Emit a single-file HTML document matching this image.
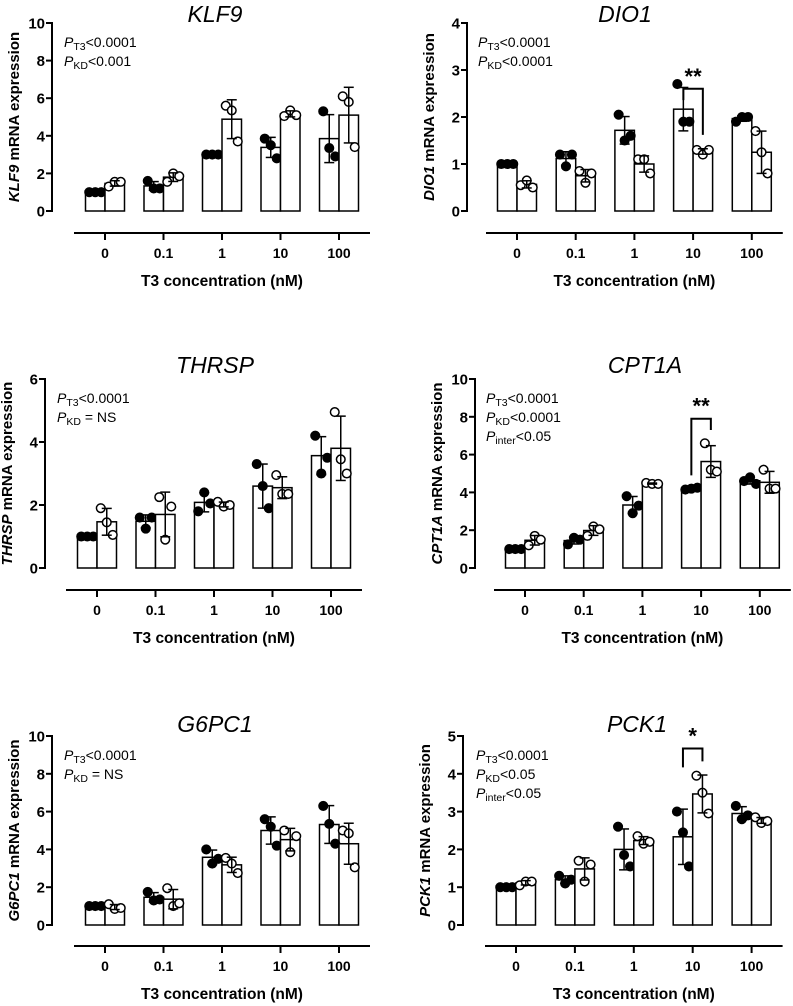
<!DOCTYPE html>
<html><head><meta charset="utf-8"><style>
html,body{margin:0;padding:0;background:#fff}
svg{display:block;font-family:"Liberation Sans",Arial,sans-serif}
</style></head><body>
<svg id="fig" width="793" height="1006" viewBox="0 0 793 1006"></svg>
<script>
const categories=["0","0.1","1","10","100"];
const klf9Ctrl=[[1,1,1],[1.6,1.2,1.2],[3,3,3],[3.85,3.5,2.8],[5.3,3.35,2.9]];
const klf9KD=[[1.3,1.55,1.55],[1.55,2,1.85],[5.6,5.35,3.7],[5.05,5.35,5.1],[6.1,5.8,3.4]];
const dio1Ctrl=[[1,1,1],[1.2,0.95,1.2],[2.05,1.5,1.6],[2.7,1.9,1.9],[1.9,2.0,2.0]];
const dio1KD=[[0.55,0.65,0.5],[0.85,0.6,0.8],[1.1,1.1,0.8],[1.3,1.2,1.3],[1.7,1.25,0.8]];
const thrspCtrl=[[1,1,1],[1.6,1.25,1.6],[1.8,2.4,2.05],[3.3,2.6,1.9],[4.2,3.0,3.5]];
const thrspKD=[[1.9,1.45,1.05],[2.25,0.9,1.95],[2.1,1.95,2.0],[2.95,2.35,2.35],[4.95,3.45,3.0]];
const cpt1aCtrl=[[1,1,1],[1.25,1.6,1.5],[3.8,2.9,3.3],[4.15,4.2,4.25],[4.6,4.8,4.45]];
const cpt1aKD=[[1.2,1.7,1.5],[1.7,2.2,2.05],[4.5,4.45,4.45],[6.6,5.2,5.1],[5.2,4.2,4.2]];
const g6pc1Ctrl=[[1,1,1],[1.75,1.3,1.35],[4.0,3.25,3.5],[5.6,5.2,4.2],[6.3,5.35,4.3]];
const g6pc1KD=[[1.1,0.85,0.9],[1.95,1.0,1.15],[3.55,3.25,2.75],[5.0,3.85,4.7],[5.0,4.85,3.05]];
const pck1Ctrl=[[1,1,1],[1.3,1.1,1.2],[2.6,1.85,1.55],[3.0,2.45,1.55],[3.15,2.8,2.9]];
const pck1KD=[[1.05,1.15,1.15],[1.7,1.15,1.6],[2.35,2.15,2.2],[3.95,3.5,2.95],[2.85,2.7,2.75]];
const yMaxes=[10,4,6,10,10,5];
const yTickSteps=[2,1,2,2,2,1];
const geneNames=["KLF9","DIO1","THRSP","CPT1A","G6PC1","PCK1"];
const statLines=[
 [["T3","<0.0001"],["KD","<0.001"]],
 [["T3","<0.0001"],["KD","<0.0001"]],
 [["T3","<0.0001"],["KD"," = NS"]],
 [["T3","<0.0001"],["KD","<0.0001"],["inter","<0.05"]],
 [["T3","<0.0001"],["KD"," = NS"]],
 [["T3","<0.0001"],["KD","<0.05"],["inter","<0.05"]]];
// brackets: [groupIndex, top value, left leg bottom, right leg bottom, stars label]
const brackets=[null,[3,2.6,2.36,1.62,"**"],null,[3,7.9,4.9,7.3,"**"],null,[3,4.67,4.17,4.33,"*"]];

const panels=[
 {ctrl:klf9Ctrl,kd:klf9KD,ax:52,top:23,bot:211,c0:105,sp:58.5,xl:233,tx:215,ty:22,sx:64},
 {ctrl:dio1Ctrl,kd:dio1KD,ax:467,top:23,bot:211,c0:517,sp:58.7,xl:233,tx:625,ty:22,sx:478},
 {ctrl:thrspCtrl,kd:thrspKD,ax:45,top:379,bot:568,c0:97,sp:58.5,xl:590,tx:215,ty:373,sx:57},
 {ctrl:cpt1aCtrl,kd:cpt1aKD,ax:475,top:379,bot:568,c0:525,sp:58.7,xl:590,tx:645,ty:373,sx:486},
 {ctrl:g6pc1Ctrl,kd:g6pc1KD,ax:52,top:736,bot:925,c0:105,sp:58.5,xl:946,tx:215,ty:732,sx:64},
 {ctrl:pck1Ctrl,kd:pck1KD,ax:463,top:736,bot:925,c0:516,sp:58.9,xl:946,tx:637,ty:732,sx:476}];

const NS="http://www.w3.org/2000/svg";
const svg=document.getElementById('fig');
function mk(tag,attrs,parent,text){const e=document.createElementNS(NS,tag);for(const k in attrs)e.setAttribute(k,attrs[k]);if(text!==undefined)e.textContent=text;(parent||svg).appendChild(e);return e;}
function mean(a){return a.reduce((s,v)=>s+v,0)/a.length;}
function sd(a){const m=mean(a);return Math.sqrt(a.reduce((s,v)=>s+(v-m)*(v-m),0)/(a.length-1));}

panels.forEach((p,i)=>{
 const g=mk('g',{});
 
 
 const ymax=yMaxes[i];
 const y=v=>p.bot-(v/ymax)*(p.bot-p.top);
 const cx=k=>p.c0+k*p.sp;
 const bw=19.5;
 const t=mk('text',{x:p.tx,y:p.ty,'font-size':23,'font-style':'italic','text-anchor':'middle'},g,geneNames[i]);
 
 
 const ya=mk('g',{},g);
 
 
 mk('line',{x1:p.ax,x2:p.ax,y1:y(0)+1,y2:y(ymax)-1,stroke:'#000','stroke-width':2},ya);
 for(let v=0;v<=ymax;v+=yTickSteps[i]){
  mk('line',{x1:p.ax-6,x2:p.ax,y1:y(v),y2:y(v),stroke:'#000','stroke-width':2},ya);
  const tl=mk('text',{x:p.ax-7,y:y(v)+5.5,'font-size':15,'font-weight':'bold','text-anchor':'end'},ya,String(v));
  
  
 }
 const yt=mk('text',{transform:`translate(${p.ax-33},${(p.top+p.bot)/2}) rotate(-90)`,'font-size':15,'font-weight':'bold','text-anchor':'middle'},g);
 
 
 mk('tspan',{'font-style':'italic'},yt,geneNames[i]);
 mk('tspan',{},yt,' mRNA expression');
 statLines[i].forEach((s,j)=>{
  const st=mk('text',{x:p.sx,y:p.top+24+j*19,'font-size':14},g);
  
  
  mk('tspan',{'font-style':'italic'},st,'P');
  mk('tspan',{'font-size':10.5,dy:3},st,s[0]);
  mk('tspan',{dy:-3},st,s[1]);
 });
 [p.ctrl,p.kd].forEach((series,si)=>{
  series.forEach((pts,k)=>{
   const m=mean(pts),d=sd(pts);
   const bc=cx(k)+(si===0?-bw/2:bw/2);
   const b=mk('rect',{x:bc-bw/2,y:y(m),width:bw,height:y(0)-y(m),fill:'#fff',stroke:'#000','stroke-width':1.5},g);
   
   
   pts.forEach((v,q)=>{
    const c=mk('circle',{cx:bc+(q-1)*6,cy:y(v),r:4.3,fill:si===0?'#000':'#fff',stroke:'#000','stroke-width':1.5},g);
    
    
   });
   const eb=mk('g',{stroke:'#000','stroke-width':1.5},g);
   
   
   mk('line',{x1:bc,x2:bc,y1:y(Math.max(0,m-d)),y2:y(m+d)},eb);
   mk('line',{x1:bc-5,x2:bc+5,y1:y(m+d),y2:y(m+d)},eb);
   mk('line',{x1:bc-5,x2:bc+5,y1:y(Math.max(0,m-d)),y2:y(Math.max(0,m-d))},eb);
  });
 });
 const br=brackets[i];
 if(br){
  const bg=mk('g',{},g);
  
  
  const xl=cx(br[0])-bw/2,xr=cx(br[0])+bw/2;
  mk('path',{d:`M${xl},${y(br[2])} V${y(br[1])} H${xr} V${y(br[3])}`,fill:'none',stroke:'#000','stroke-width':2},bg);
  mk('text',{x:cx(br[0]),y:y(br[1])-5,'font-size':22,'font-weight':'bold','text-anchor':'middle'},bg,br[4]);
 }
 const xa=mk('g',{},g);
 
 
 mk('line',{x1:cx(0)-31,x2:cx(4)+31,y1:p.xl,y2:p.xl,stroke:'#000','stroke-width':2},xa);
 categories.forEach((c,k)=>{
  mk('line',{x1:cx(k),x2:cx(k),y1:p.xl,y2:p.xl+7,stroke:'#000','stroke-width':2},xa);
  const tl=mk('text',{x:cx(k),y:p.xl+25,'font-size':14,'font-weight':'bold','text-anchor':'middle'},xa,c);
  
  
 });
 const xt=mk('text',{x:(cx(0)+cx(4))/2,y:p.xl+53,'font-size':15.5,'font-weight':'bold','text-anchor':'middle'},g,'T3 concentration (nM)');
 
 
});
</script>
</body></html>
